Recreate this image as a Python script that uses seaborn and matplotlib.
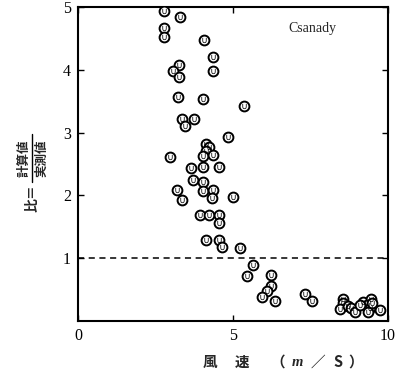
import matplotlib
matplotlib.use("Agg")
import matplotlib.pyplot as plt
import seaborn as sns
import pandas as pd

# wind speed (m/s) and ratio computed/observed
wind_speed = [2.78, 3.29, 2.78, 2.78, 4.06, 4.36, 3.26, 3.05, 4.36, 3.26,
              3.24, 4.04, 5.36, 3.36, 3.75, 3.45, 4.85, 4.13, 4.24, 4.13,
              4.04, 4.35, 2.97, 3.65, 4.04, 4.55, 3.72, 4.04, 3.20, 4.02,
              4.35, 3.35, 4.33, 5.01, 3.94, 4.23, 4.55, 4.56, 4.12, 4.55,
              4.64, 5.24, 5.63, 5.44, 6.23, 6.23, 6.11, 5.93, 6.35, 7.32,
              7.54, 8.56, 8.56, 8.45, 8.72, 8.80, 8.94, 9.20, 9.44, 9.31,
              9.42, 9.36, 9.74, 9.10, 9.48]
ratio = [4.93, 4.84, 4.66, 4.52, 4.48, 4.21, 4.08, 3.98, 3.98, 3.89,
         3.57, 3.54, 3.43, 3.21, 3.21, 3.10, 2.93, 2.82, 2.77, 2.70,
         2.62, 2.64, 2.61, 2.44, 2.46, 2.46, 2.24, 2.21, 2.08, 2.07,
         2.08, 1.92, 1.96, 1.97, 1.69, 1.69, 1.68, 1.56, 1.29, 1.29,
         1.18, 1.17, 0.89, 0.72, 0.73, 0.55, 0.48, 0.39, 0.32, 0.43,
         0.32, 0.35, 0.28, 0.19, 0.24, 0.20, 0.14, 0.30, 0.35, 0.26,
         0.21, 0.15, 0.18, 0.26, 0.29]
x_ticks = [0, 5, 10]
y_ticks = [1, 2, 3, 4, 5]
ref_level = 1.0
model_name = "Csanady"
xlabel_parts = ["風", "速", "（", "m", "／", "S", "）"]
xlabel_pos = [210, 242, 278, 297, 318, 338, 356]
ylabel_prefix = "比＝"
ylabel_num = "計算値"
ylabel_den = "実測値"

df = pd.DataFrame({"wind": wind_speed, "ratio": ratio})

sns.set_style("ticks")
plt.rcParams["font.family"] = ["Liberation Serif", "Noto Sans CJK JP", "DejaVu Sans"]

fig = plt.figure(figsize=(3.97, 3.70), dpi=100)
ax = fig.add_axes([78 / 397, 49 / 370, 310 / 397, 314 / 370])

sns.scatterplot(data=df, x="wind", y="ratio", ax=ax, marker="o", s=50,
                facecolor="white", edgecolor="black", linewidth=1.4, zorder=3)
sns.scatterplot(data=df, x="wind", y="ratio", ax=ax, marker=r"$\cup$", s=14,
                color="black", linewidth=0, zorder=4)

ax.axhline(ref_level, color="black", linestyle=(0, (4, 3)), linewidth=1.1, zorder=2)

ax.set_xlim(0, 10)
ax.set_ylim(0, 5)
ax.set_xticks(x_ticks)
ax.set_yticks(y_ticks)
ax.set_xlabel("")
ax.set_ylabel("")
ax.tick_params(direction="in", length=4, width=1, labelsize=11.5,
               top=True, right=True, colors="black", pad=5)
for sp in ax.spines.values():
    sp.set_visible(True)
    sp.set_linewidth(1.5)
    sp.set_color("black")

ax.text(0.68, 0.93, model_name, transform=ax.transAxes, fontsize=10,
        family="Liberation Serif", ha="left", va="center")

cjk = ["Noto Sans CJK JP", "DejaVu Sans"]
for part, px in zip(xlabel_parts, xlabel_pos):
    style = "italic" if part == "m" else "normal"
    fam = ["Liberation Serif"] if part == "m" else cjk
    fig.text(px / 397, 1 - 362 / 370, part, family=fam, fontsize=10.5,
             fontweight="bold", style=style, ha="center", va="center")

# y label as rotated fraction
fig.text(32 / 397, 1 - 198 / 370, ylabel_prefix, family=cjk, fontsize=10,
         fontweight="bold", rotation=90, ha="center", va="center")
fig.text(24 / 397, 1 - 158 / 370, ylabel_num, family=cjk, fontsize=9,
         fontweight="bold", rotation=90, ha="center", va="center")
fig.text(42 / 397, 1 - 158 / 370, ylabel_den, family=cjk, fontsize=9,
         fontweight="bold", rotation=90, ha="center", va="center")
fig.add_artist(plt.Line2D([32 / 397, 32 / 397], [1 - 182 / 370, 1 - 134 / 370],
                          transform=fig.transFigure, color="black", linewidth=1))

fig.savefig("out.png", dpi=100)
